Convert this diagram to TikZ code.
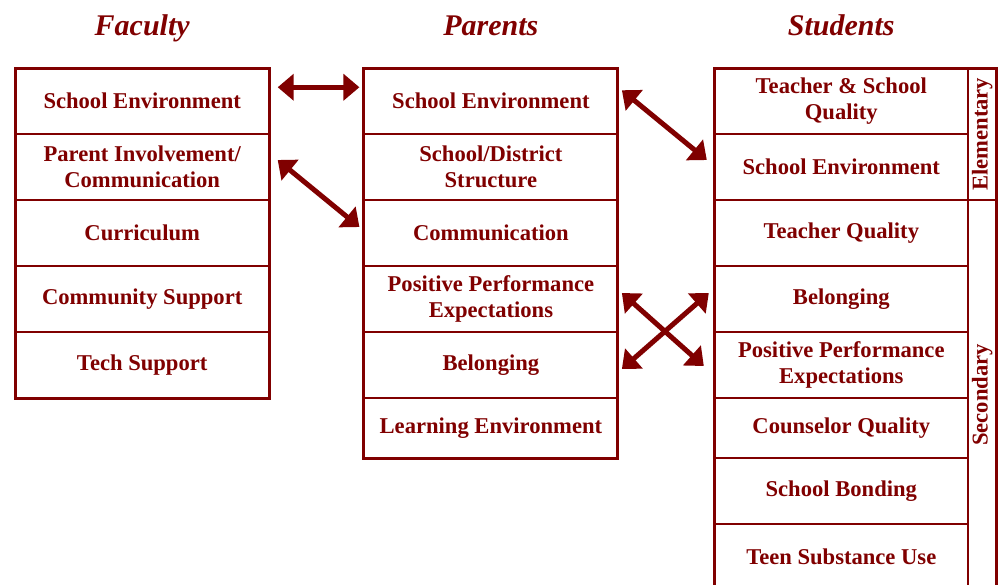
\documentclass[tikz,border=0pt]{standalone}
\usepackage{fontspec}
\setmainfont{Liberation Serif}
\usetikzlibrary{arrows.meta,calc}
\definecolor{maroon}{RGB}{128,0,0}
\begin{document}
\begin{tikzpicture}[x=1pt,y=-1pt,
  cell/.style={rectangle,draw=maroon,line width=2pt,inner sep=0pt,outer sep=0pt,
    minimum width=254pt,minimum height=66pt,text=maroon,align=center,
    font=\bfseries\fontsize{22.6}{25.5}\selectfont},
  frame/.style={draw=maroon,line width=3pt},
  title/.style={text=maroon,anchor=base,font=\bfseries\itshape\fontsize{30}{36}\selectfont},
  link/.style={draw=maroon,line width=5pt,
    {Triangle[length=16pt,width=26pt]}-{Triangle[length=16pt,width=26pt]}}]
\clip (0,0) rectangle (1000,584);

% column headings
\node[title] (tf) at (142.2,35) {Faculty};
\node[title] (tp) at (490.9,35) {Parents};
\node[title] (ts) at (841.3,35) {Students};

% Faculty
\node[cell,minimum height=65.5pt] (f1) at (142.2,101.25) {School Environment};
\node[cell] (f2) at (142.2,167) {Parent Involvement/\\Communication};
\node[cell] (f3) at (142.2,233) {Curriculum};
\node[cell] (f4) at (142.2,299) {Community Support};
\node[cell] (f5) at (142.2,365) {Tech Support};
\draw[frame] (f1.north west) rectangle (f5.south east);

% Parents
\node[cell,minimum height=65.5pt] (p1) at (490.9,101.25) {School Environment};
\node[cell] (p2) at (490.9,167) {School/District\\Structure};
\node[cell] (p3) at (490.9,233) {Communication};
\node[cell] (p4) at (490.9,299) {Positive Performance\\Expectations};
\node[cell] (p5) at (490.9,365) {Belonging};
\node[cell,minimum height=60pt] (p6) at (490.9,428) {Learning Environment};
\draw[frame] (p1.north west) rectangle (p6.south east);

% Students
\node[cell,minimum height=65.5pt] (s1) at (841.3,101.25) {Teacher \& School\\Quality};
\node[cell] (s2) at (841.3,167) {School Environment};
\node[cell] (s3) at (841.3,233) {Teacher Quality};
\node[cell] (s4) at (841.3,299) {Belonging};
\node[cell] (s5) at (841.3,365) {Positive Performance\\Expectations};
\node[cell,minimum height=60pt] (s6) at (841.3,428) {Counselor Quality};
\node[cell] (s7) at (841.3,491) {School Bonding};
\node[cell] (s8) at (841.3,557) {Teen Substance Use};
% school-level labels, read upwards
\node[cell,rotate=90,minimum width=131.5pt,minimum height=27.7pt] (elem) at (982.2,134.25) {Elementary};
\node[cell,rotate=90,minimum width=390pt,minimum height=27.7pt] (sec) at (982.2,395) {Secondary};
\draw[frame] (s1.north west) rectangle (sec.south west);

% links between groups
\draw[link] ($(f1.east)+(8.5,-14)$) -- ($(p1.west)+(-4.5,-14)$);
\draw[link] ($(f2.east)+(8.5,-7)$) -- ($(p3.west)+(-4.5,-6)$);
\draw[link] ($(p1.east)+(4,-11)$) -- ($(s2.west)+(-7.5,-7)$);
\draw[link] ($(p4.east)+(4,-6)$) -- ($(s5.west)+(-10.5,1)$);
\draw[link] ($(p5.east)+(4,4)$) -- ($(s4.west)+(-5.5,-6)$);
\end{tikzpicture}
\end{document}
